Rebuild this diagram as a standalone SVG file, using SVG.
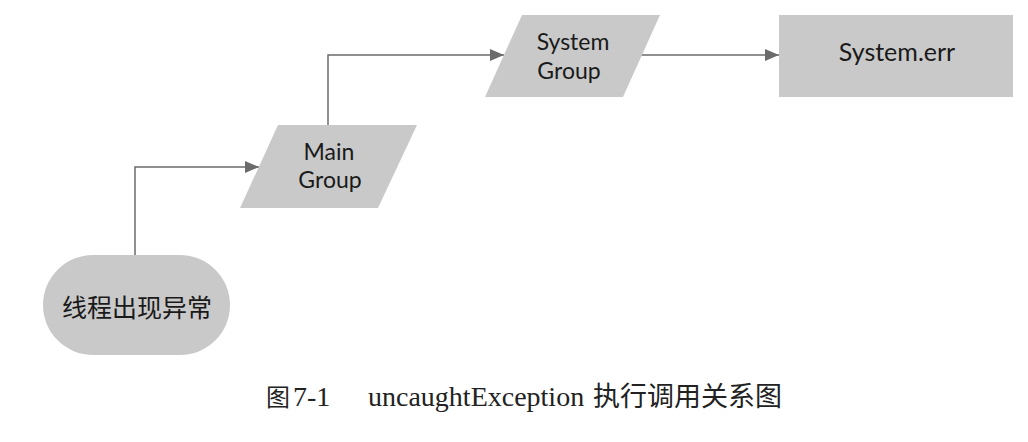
<svg xmlns="http://www.w3.org/2000/svg" width="1028" height="442" viewBox="0 0 1028 442">
  <style>
    .shape { fill: #c9c9c9; stroke: none; }
    .lbl { font-family: Lato, "Open Sans", "Noto Sans", sans-serif; font-size: 23px; fill: #1a1a1a; text-anchor: middle; }
    .cjk { font-family: "Noto Sans CJK SC", sans-serif; font-size: 25px; fill: #1a1a1a; text-anchor: middle; }
    .conn { fill: none; stroke: #6b6b6b; stroke-width: 1.5; marker-end: url(#arrow); }
    .cap { font-family: "Liberation Serif", "Noto Sans CJK SC", serif; font-size: 28px; fill: #222; }
    .capcjk { font-family: "Noto Sans CJK SC", sans-serif; font-size: 26px; }
  </style>
  <defs>
    <marker id="arrow" markerUnits="userSpaceOnUse" markerWidth="14" markerHeight="12" viewBox="0 0 14 12" refX="14" refY="6" orient="auto">
      <path d="M0,0 L14,6 L0,12 z" fill="#6b6b6b"/>
    </marker>
  </defs>
  <rect width="1028" height="442" fill="#ffffff"/>

  <g id="connectors">
    <path id="c1" class="conn" d="M135,255 V167 H259"/>
    <path id="c2" class="conn" d="M328,125 V55 H504"/>
    <path id="c3" class="conn" d="M640,55 H779"/>
  </g>

  <g id="node-thread-exception">
    <rect class="shape" x="43" y="255" width="187" height="100" rx="50" ry="50"/>
    <text class="cjk" x="137" y="317">线程出现异常</text>
  </g>

  <g id="node-main-group">
    <polygon class="shape" points="278,125 417,125 378,208 240,208"/>
    <text class="lbl"><tspan x="329" y="160">Main</tspan><tspan x="330" y="188">Group</tspan></text>
  </g>

  <g id="node-system-group">
    <polygon class="shape" points="522,15 660,15 623,97 485,97"/>
    <text class="lbl"><tspan x="573" y="50">System</tspan><tspan x="569" y="79">Group</tspan></text>
  </g>

  <g id="node-system-err">
    <rect class="shape" x="779" y="15" width="234" height="82"/>
    <text class="lbl" x="897" y="61" style="font-size:25px">System.err</text>
  </g>

  <text id="caption" class="cap" y="406"><tspan x="266" class="capcjk" style="font-size:24px">图 </tspan><tspan x="293">7-1</tspan><tspan x="368">uncaughtException</tspan><tspan x="593" class="capcjk" style="font-size:27px">执行调用关系图</tspan></text>
</svg>
